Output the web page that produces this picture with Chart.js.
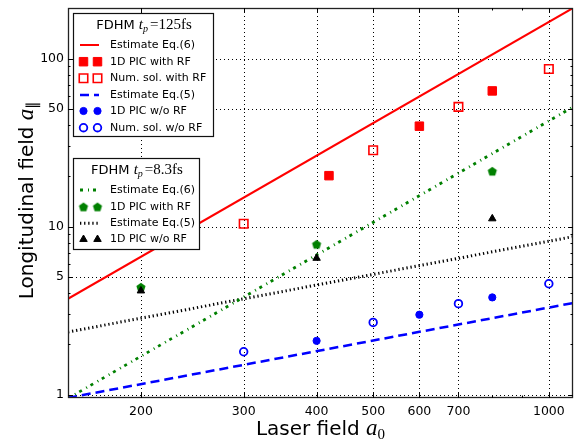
<!DOCTYPE html>
<html>
<head>
<meta charset="utf-8">
<script src="https://cdn.jsdelivr.net/npm/chart.js@4/dist/chart.umd.min.js"></script>
<style>
  body { margin: 0; background: #fff; }
  #grafico { display: block; }
</style>
</head>
<body>
<canvas id="grafico" width="574" height="439"></canvas>
<script>
// eje x: campo laser a0, eje y: campo longitudinal (ambos log)
const xTicks = [200, 300, 400, 500, 600, 700, 1000];
const yTicks = [1, 5, 10, 50, 100];
const xMinor = [800, 900];
const yMinor = [2, 3, 4, 6, 7, 8, 9, 20, 30, 40, 60, 70, 80, 90];

// rectas estimadas (extremos del rango)
const estX = [150, 1100];
const est6Largo = [3.72, 200];
const est5Largo = [0.957, 3.51];
const est6Corto = [0.95, 51.5];
const est5Corto = [2.36, 8.72];

// FDHM 125fs
const picRfX = [420, 600, 800];
const picRfY = [20.1, 39.6, 64.2];
const numRfX = [300, 500, 700, 1000];
const numRfY = [10.4, 28.5, 51.6, 86.7];
const picSinRfX = [400, 600, 800];
const picSinRfY = [2.09, 2.99, 3.79];
const numSinRfX = [300, 500, 700, 1000];
const numSinRfY = [1.80, 2.69, 3.48, 4.57];

// FDHM 8.3fs
const cortoX = [200, 400, 800];
const cortoRfY = [4.37, 7.86, 21.4];
const cortoSinRfY = [4.15, 6.49, 11.15];

const pares = (xs, ys) => xs.map((x, i) => ({ x: x, y: ys[i] }));

// pentagono verde como imagen
function pentagono(color, r) {
  const c = document.createElement("canvas");
  const s = Math.ceil(r * 2 + 2);
  c.width = s; c.height = s;
  const g = c.getContext("2d");
  g.beginPath();
  for (let i = 0; i < 5; i++) {
    const a = -Math.PI / 2 + i * 2 * Math.PI / 5;
    const px = s / 2 + r * Math.cos(a), py = s / 2 + 0.6 + r * Math.sin(a);
    if (i === 0) g.moveTo(px, py); else g.lineTo(px, py);
  }
  g.closePath();
  g.fillStyle = color;
  g.fill();
  return c;
}
const penta = pentagono("#008000", 4.8);

const linea = (label, xs, ys, color, width, dash) => ({
  label, data: pares(xs, ys), showLine: true, borderColor: color, borderWidth: width,
  borderDash: dash, pointRadius: 0, backgroundColor: color, order: 2, borderCapStyle: "butt"
});
const marca = (label, xs, ys, estilo, radio, relleno, borde, bw, orden) => ({
  label, data: pares(xs, ys), showLine: false, pointStyle: estilo, pointRadius: radio,
  backgroundColor: relleno, borderColor: borde, borderWidth: bw, order: orden
});

const grupo1 = [
  linea("Estimate Eq.(6)", estX, est6Largo, "#ff0000", 2, []),
  marca("1D PIC with RF", picRfX, picRfY, "rect", 6, "#ff0000", "#ff0000", 1, 1),
  marca("Num. sol. with RF", numRfX, numRfY, "rect", 6, "rgba(0,0,0,0)", "#ff0000", 1.6, 1),
  linea("Estimate Eq.(5)", estX, est5Largo, "#0000ff", 2.5, [9, 5]),
  marca("1D PIC w/o RF", picSinRfX, picSinRfY, "circle", 3.6, "#0000ff", "#0000ff", 1, 1),
  marca("Num. sol. w/o RF", numSinRfX, numSinRfY, "circle", 3.8, "rgba(0,0,0,0)", "#0000ff", 1.8, 1)
];
const grupo2 = [
  linea("Estimate Eq.(6)", estX, est6Corto, "#008000", 2.8, [3, 5, 1, 4]),
  marca("1D PIC with RF", cortoX, cortoRfY, penta, 5, "#008000", "#008000", 0, 1),
  linea("Estimate Eq.(5)", estX, est5Corto, "#000000", 3, [1.3, 2.8]),
  marca("1D PIC w/o RF", cortoX, cortoSinRfY, "triangle", 4.3, "#000000", "#000000", 1, 0)
];

const FUENTE = "DejaVu Sans";
const MATE = "Liberation Serif";

// texto con partes (para subindices)
function textoMixto(ctx, partes, x, y, align) {
  let total = 0;
  partes.forEach(p => { ctx.font = p.f; total += ctx.measureText(p.t).width + (p.gap || 0); });
  let cx = align === "center" ? x - total / 2 : x;
  ctx.textBaseline = "alphabetic";
  ctx.textAlign = "left";
  partes.forEach(p => {
    ctx.font = p.f;
    ctx.fillText(p.t, cx, y + (p.dy || 0));
    cx += ctx.measureText(p.t).width + (p.gap || 0);
  });
}

function dibujarMarca(ctx, ds, x, y) {
  ctx.save();
  ctx.fillStyle = ds.backgroundColor;
  ctx.strokeStyle = ds.borderColor;
  ctx.lineWidth = ds.borderWidth;
  const r = ds.pointRadius;
  const st = ds.pointStyle;
  ctx.beginPath();
  if (st instanceof HTMLCanvasElement) {
    ctx.drawImage(st, x - st.width / 2, y - st.height / 2);
    ctx.restore();
    return;
  } else if (st === "rect") {
    const s = r * Math.SQRT1_2;
    ctx.rect(x - s, y - s, 2 * s, 2 * s);
  } else if (st === "triangle") {
    for (let i = 0; i < 3; i++) {
      const a = i * 2 * Math.PI / 3;
      const px = x + Math.sin(a) * r, py = y - Math.cos(a) * r;
      if (i === 0) ctx.moveTo(px, py); else ctx.lineTo(px, py);
    }
    ctx.closePath();
  } else {
    ctx.arc(x, y, r, 0, Math.PI * 2);
  }
  ctx.fill();
  if (ds.borderWidth > 0) ctx.stroke();
  ctx.restore();
}

function dibujarLeyenda(ctx, caja, titulo, lista, filas) {
  ctx.save();
  ctx.fillStyle = "#fff";
  ctx.strokeStyle = "#111";
  ctx.lineWidth = 1.2;
  ctx.fillRect(caja.x, caja.y, caja.w, caja.h);
  ctx.strokeRect(caja.x + 0.5, caja.y + 0.5, caja.w, caja.h);
  ctx.fillStyle = "#000";
  textoMixto(ctx, [
    { t: "FDHM ", f: "13px " + FUENTE },
    { t: "t", f: "italic 15px " + MATE },
    { t: "p", f: "italic 10px " + MATE, dy: 3, gap: 2 },
    { t: "=" + titulo, f: "15px " + MATE }
  ], caja.x + caja.w / 2 + 1, caja.y + 16, "center");
  lista.forEach((ds, i) => {
    const y = filas[i];
    if (ds.showLine) {
      ctx.save();
      ctx.strokeStyle = ds.borderColor;
      ctx.lineWidth = ds.borderWidth;
      ctx.setLineDash(ds.borderDash || []);
      ctx.beginPath();
      ctx.moveTo(80, y);
      ctx.lineTo(99, y);
      ctx.stroke();
      ctx.restore();
    } else {
      dibujarMarca(ctx, ds, 83.5, y);
      dibujarMarca(ctx, ds, 97.5, y);
    }
    ctx.fillStyle = "#000";
    ctx.font = "11px " + FUENTE;
    ctx.textBaseline = "middle";
    ctx.textAlign = "left";
    ctx.fillText(ds.label, 110, y);
  });
  ctx.restore();
}

const marcoPlugin = {
  id: "marco",
  beforeDatasetsDraw(chart) {
    const ctx = chart.ctx, a = chart.chartArea;
    const xs = chart.scales.x, ys = chart.scales.y;
    ctx.save();
    ctx.strokeStyle = "#000";
    ctx.lineWidth = 1;
    ctx.setLineDash([1, 3]);
    xTicks.forEach(v => {
      const px = Math.round(xs.getPixelForValue(v)) + 0.5;
      ctx.beginPath(); ctx.moveTo(px, a.top); ctx.lineTo(px, a.bottom); ctx.stroke();
    });
    yTicks.forEach(v => {
      const py = Math.round(ys.getPixelForValue(v)) + 0.5;
      ctx.beginPath(); ctx.moveTo(a.left, py); ctx.lineTo(a.right, py); ctx.stroke();
    });
    ctx.restore();
  },
  afterDatasetsDraw(chart) {
    const ctx = chart.ctx, a = chart.chartArea;
    const xs = chart.scales.x, ys = chart.scales.y;
    ctx.save();
    ctx.strokeStyle = "#222";
    ctx.lineWidth = 1.3;
    ctx.strokeRect(a.left + 0.5, a.top + 0.5, a.right - a.left - 1, a.bottom - a.top - 1);
    ctx.lineWidth = 1;
    ctx.strokeStyle = "#000";
    const marcaX = (v, l) => {
      const px = Math.round(xs.getPixelForValue(v)) + 0.5;
      ctx.beginPath();
      ctx.moveTo(px, a.bottom); ctx.lineTo(px, a.bottom - l);
      ctx.moveTo(px, a.top); ctx.lineTo(px, a.top + l);
      ctx.stroke();
    };
    const marcaY = (v, l) => {
      const py = Math.round(ys.getPixelForValue(v)) + 0.5;
      ctx.beginPath();
      ctx.moveTo(a.left, py); ctx.lineTo(a.left + l, py);
      ctx.moveTo(a.right, py); ctx.lineTo(a.right - l, py);
      ctx.stroke();
    };
    xTicks.forEach(v => marcaX(v, 5));
    xMinor.forEach(v => marcaX(v, 2.5));
    yTicks.forEach(v => marcaY(v, 5));
    yMinor.forEach(v => marcaY(v, 2.5));
    ctx.restore();

    dibujarLeyenda(ctx, { x: 73, y: 13, w: 140, h: 123 }, "125fs", grupo1,
      [45, 61.7, 78.3, 95, 111, 127.7]);
    dibujarLeyenda(ctx, { x: 73, y: 158, w: 126, h: 91 }, "8.3fs", grupo2,
      [190, 206.7, 223.3, 239.3]);

    // titulos de ejes
    ctx.save();
    ctx.fillStyle = "#000";
    textoMixto(ctx, [
      { t: "Laser field ", f: "20px " + FUENTE },
      { t: "a", f: "italic 23px " + MATE },
      { t: "0", f: "15px " + MATE, dy: 4 }
    ], (a.left + a.right) / 2, 435, "center");
    ctx.translate(33, 200);
    ctx.rotate(-Math.PI / 2);
    textoMixto(ctx, [
      { t: "Longitudinal field ", f: "20px " + FUENTE },
      { t: "a", f: "italic 23px " + MATE },
      { t: "\u2225", f: "15px " + MATE, dy: 4 }
    ], 0, 0, "center");
    ctx.restore();
  }
};

const fuenteTicks = { family: FUENTE, size: 12.5 };

new Chart(document.getElementById("grafico").getContext("2d"), {
  type: "scatter",
  data: { datasets: grupo1.concat(grupo2) },
  options: {
    responsive: false,
    devicePixelRatio: 1,
    animation: false,
    layout: { autoPadding: false, padding: { top: 8, right: 1, left: 0, bottom: 0 } },
    plugins: { legend: { display: false }, tooltip: { enabled: false } },
    scales: {
      x: {
        type: "logarithmic", min: 150, max: 1100, position: "bottom",
        grid: { display: false, drawTicks: false }, border: { display: false },
        ticks: { font: fuenteTicks, color: "#000", padding: 6, maxRotation: 0, autoSkip: false,
          callback: v => String(v) },
        afterBuildTicks: s => { s.ticks = xTicks.map(v => ({ value: v })); },
        afterFit: s => { s.height = 41; s.paddingLeft = 0; s.paddingRight = 0; }
      },
      y: {
        type: "logarithmic", min: 0.955, max: 200, position: "left",
        grid: { display: false, drawTicks: false }, border: { display: false },
        ticks: { font: fuenteTicks, color: "#000", padding: 4, autoSkip: false,
          callback: v => String(v) },
        afterBuildTicks: s => { s.ticks = yTicks.map(v => ({ value: v })); },
        afterFit: s => { s.width = 68; s.paddingTop = 0; s.paddingBottom = 0; }
      }
    }
  },
  plugins: [marcoPlugin]
});
</script>
</body>
</html>
